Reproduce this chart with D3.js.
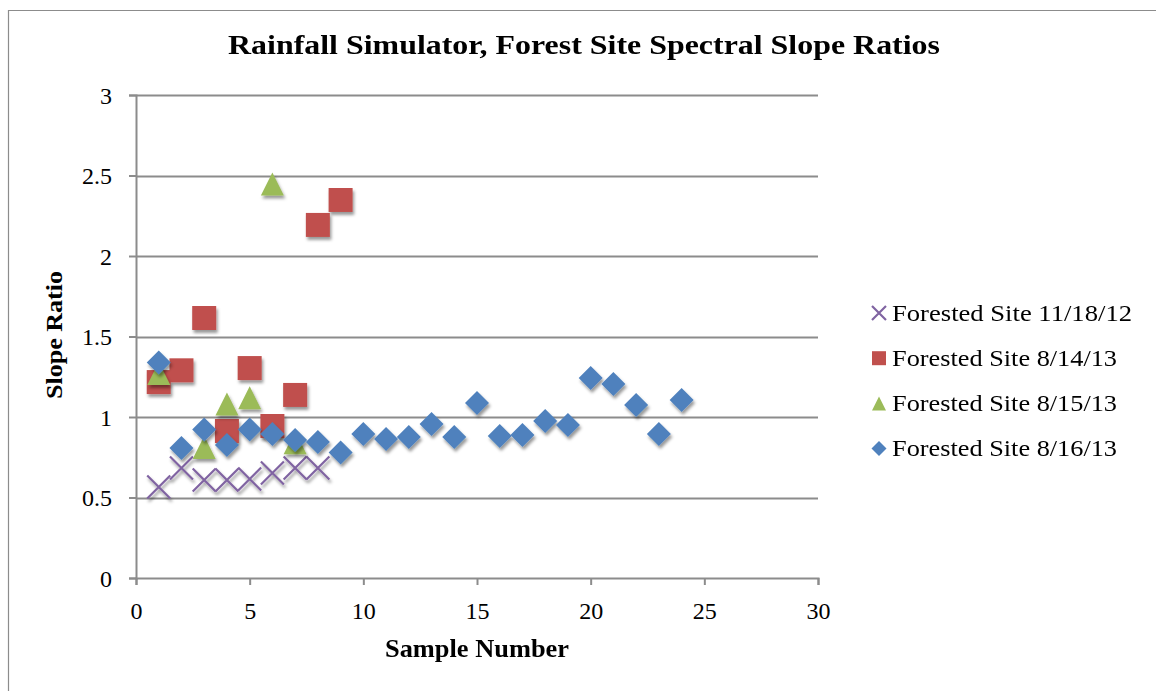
<!DOCTYPE html>
<html>
<head>
<meta charset="utf-8">
<script src="https://cdn.jsdelivr.net/npm/d3@7"></script>
<style>
  html, body { margin: 0; padding: 0; background: #fff; }
  svg { display: block; }
</style>
</head>
<body>
<div id="chart"></div>
<script>
// ---------- data ----------
const titleText = "Rainfall Simulator, Forest Site Spectral Slope Ratios";
const xTitle = "Sample Number";
const yTitle = "Slope Ratio";
const xTicks = [0, 5, 10, 15, 20, 25, 30];
const yTicks = [0, 0.5, 1, 1.5, 2, 2.5, 3];

const seriesNames = ["Forested Site 11/18/12", "Forested Site 8/14/13", "Forested Site 8/15/13", "Forested Site 8/16/13"];
const seriesColors = ["#8064A2", "#C0504D", "#9BBB59", "#4F81BD"];
const seriesShapes = ["x", "square", "triangle", "diamond"];

const x1 = [1, 2, 3, 4, 5, 6, 7, 8];
const y1 = [0.565, 0.683, 0.609, 0.609, 0.615, 0.652, 0.683, 0.683];

const x2 = [1, 2, 3, 4, 5, 6, 7, 8, 9];
const y2 = [1.217, 1.29, 1.615, 0.913, 1.304, 0.944, 1.137, 2.193, 2.348];

const x3 = [1, 3, 4, 5, 6, 7];
const y3 = [1.27, 0.81, 1.08, 1.12, 2.447, 0.84];

const x4 = [1, 2, 3, 4, 5, 6, 7, 8, 9, 10, 11, 12, 13, 14, 15, 16, 17, 18, 19, 20, 21, 22, 23, 24];
const y4 = [1.338, 0.807, 0.922, 0.826, 0.922, 0.894, 0.857, 0.845, 0.780, 0.894, 0.863, 0.876, 0.957, 0.876, 1.087, 0.882, 0.888, 0.975, 0.950, 1.242, 1.205, 1.075, 0.894, 1.106];

const seriesX = [x1, x2, x3, x4];
const seriesY = [y1, y2, y3, y4];

// ---------- layout ----------
const W = 1158, H = 691;
const plot = { left: 136, right: 818, top: 95, bottom: 578 };
const serif = "'Liberation Serif', 'Times New Roman', Times, serif";

const svg = d3.select("#chart").append("svg").attr("width", W).attr("height", H);

const defs = svg.append("defs");
const f = defs.append("filter").attr("id", "shadow").attr("x", "-50%").attr("y", "-50%").attr("width", "200%").attr("height", "200%");
f.append("feDropShadow").attr("dx", 1.5).attr("dy", 3).attr("stdDeviation", 1.6)
  .attr("flood-color", "#000").attr("flood-opacity", 0.4);

// outer chart border (left + top)
svg.append("path").attr("d", `M8.5,${H} L8.5,10.5 L${W - 2},10.5`)
  .attr("fill", "none").attr("stroke", "#8c8c8c").attr("stroke-width", 1.2);

const x = d3.scaleLinear().domain([0, 30]).range([plot.left, plot.right]);
const y = d3.scaleLinear().domain([0, 3]).range([plot.bottom, plot.top]);

// gridlines
svg.append("g").selectAll("line").data(yTicks.filter(d => d > 0)).join("line")
  .attr("x1", plot.left).attr("x2", plot.right)
  .attr("y1", d => Math.round(y(d)) + 0.5).attr("y2", d => Math.round(y(d)) + 0.5)
  .attr("stroke", "#8c8c8c").attr("stroke-width", 2);

// axes
const xAxis = d3.axisBottom(x).tickValues(xTicks).tickSize(7).tickFormat(d3.format("d"));
const yAxis = d3.axisLeft(y).tickValues(yTicks).tickSize(7).tickPadding(17).tickFormat(d => d === 0 ? "0" : String(d));

const gx = svg.append("g").attr("transform", `translate(0,${plot.bottom})`).call(xAxis);
const gy = svg.append("g").attr("transform", `translate(${plot.left},0)`).call(yAxis);
[gx, gy].forEach(g => {
  g.select(".domain").attr("stroke", "#8c8c8c").attr("stroke-width", 2);
  g.selectAll(".tick line").attr("stroke", "#8c8c8c").attr("stroke-width", 2);
  g.selectAll("text").attr("font-family", serif).attr("font-size", 24).attr("fill", "#000");
});
gx.selectAll("text").attr("y", 41).attr("dy", 0);
gy.selectAll("text").attr("dy", "0.34em");

// symbol paths
function shapePath(shape, s) {
  const h = s / 2;
  switch (shape) {
    case "square": return `M${-h},${-h}H${h}V${h}H${-h}Z`;
    case "diamond": return `M0,${-h}L${h},0L0,${h}L${-h},0Z`;
    case "triangle": return `M0,${-h}L${h},${h}L${-h},${h}Z`;
    case "x": return `M${-h},${-h}L${h},${h}M${h},${-h}L${-h},${h}`;
  }
}
const markerSize = { x: 23, square: 24, triangle: 23, diamond: 24 };

function drawMarker(g, shape, color, s) {
  const p = g.append("path").attr("d", shapePath(shape, s));
  if (shape === "x") p.attr("fill", "none").attr("stroke", color).attr("stroke-width", 2.2);
  else p.attr("fill", color);
  return p;
}

// points
seriesNames.forEach((name, i) => {
  const g = svg.append("g").attr("filter", "url(#shadow)");
  const pts = seriesX[i].map((v, j) => [v, seriesY[i][j]]);
  pts.forEach(([vx, vy]) => {
    const m = g.append("g").attr("transform", `translate(${x(vx)},${y(vy)})`);
    drawMarker(m, seriesShapes[i], seriesColors[i], markerSize[seriesShapes[i]]);
  });
});

// title
svg.append("text").attr("x", 228).attr("y", 53.5)
  .attr("font-family", serif).attr("font-weight", "bold").attr("font-size", 28)
  .attr("textLength", 712).attr("lengthAdjust", "spacingAndGlyphs")
  .text(titleText);

// axis titles
svg.append("text").attr("x", 385).attr("y", 657)
  .attr("font-family", serif).attr("font-weight", "bold").attr("font-size", 25)
  .attr("textLength", 184).attr("lengthAdjust", "spacingAndGlyphs")
  .text(xTitle);
svg.append("text").attr("transform", `translate(62,399) rotate(-90)`)
  .attr("font-family", serif).attr("font-weight", "bold").attr("font-size", 24)
  .attr("textLength", 128).attr("lengthAdjust", "spacingAndGlyphs")
  .text(yTitle);

// legend
const legendWidths = [240, 225, 225, 225];
const legend = svg.append("g");
seriesNames.forEach((name, i) => {
  const cy = 313 + i * 45.2;
  const m = legend.append("g").attr("transform", `translate(879,${cy})`);
  drawMarker(m, seriesShapes[i], seriesColors[i], seriesShapes[i] === "diamond" ? 15 : 14);
  legend.append("text").attr("x", 892).attr("y", cy + 7.5)
    .attr("font-family", serif).attr("font-size", 23).attr("fill", "#000")
    .attr("textLength", legendWidths[i]).attr("lengthAdjust", "spacingAndGlyphs")
    .text(name);
});
</script>
</body>
</html>
